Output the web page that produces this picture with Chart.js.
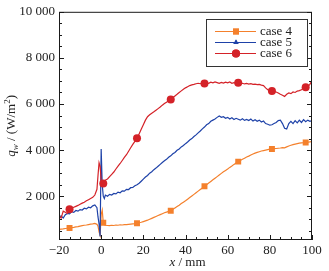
<!DOCTYPE html>
<html>
<head>
<meta charset="utf-8">
<script src="https://cdn.jsdelivr.net/npm/chart.js@4.4.0/dist/chart.umd.min.js"></script>
<style>
  html, body { margin: 0; padding: 0; background: #fff; }
  #wrap { width: 329px; height: 271px; }
</style>
</head>
<body>
<div id="wrap"><canvas id="heatChart"></canvas></div>
<script>
// x positions along the wall (mm)
const xMm = [
  -20, -19, -18, -17, -16, -15, -14, -13, -12, -11, -10, -9, -8, -7, -6, -5, -4, -3,
  -2, -1.5, -1, -0.5, 0, 0.5, 1, 1.5, 2,
  3, 4, 5, 6, 7, 8, 9, 10, 11, 12, 13, 14, 15, 16, 17, 18, 19, 20,
  21, 22, 23, 24, 25, 26, 27, 28, 29, 30, 31, 32, 33, 34, 35, 36, 37, 38, 39, 40,
  41, 42, 43, 44, 45, 46, 47, 48, 49, 50, 51, 52, 53, 54, 55, 56, 57, 58, 59, 60,
  61, 62, 63, 64, 65, 66, 67, 68, 69, 70, 71, 72, 73, 74, 75, 76, 77, 78, 79, 80,
  81, 82, 83, 84, 85, 86, 87, 88, 89, 90, 91, 92, 93, 94, 95, 96, 97, 98, 99, 100
];

const case4 = [
  560, 570, 580, 600, 610, 620, 640, 650, 670, 680, 700, 720, 740, 750, 770, 790, 800, 820,
  780, 700, 450, 300, 1200, 1400, 850, 760, 740,
  730, 720, 740, 730, 750, 740, 760, 750, 770, 770, 780, 790, 800, 810, 825, 850, 870, 900,
  930, 960, 1000, 1040, 1080, 1120, 1160, 1200, 1240, 1280, 1310, 1340, 1370, 1430, 1490, 1550, 1610, 1680, 1740, 1800,
  1870, 1940, 2010, 2080, 2150, 2220, 2290, 2360, 2430, 2500, 2570, 2640, 2710, 2780, 2850, 2920, 2990, 3060, 3120, 3180,
  3250, 3310, 3380, 3440, 3500, 3550, 3600, 3650, 3700, 3740, 3790, 3830, 3870, 3900, 3930, 3960, 3980, 4000, 4020, 4040,
  4050, 4060, 4070, 4080, 4090, 4110, 4100, 4140, 4180, 4210, 4240, 4260, 4280, 4300, 4310, 4320, 4330, 4340, 4360, 4370
];

const case5 = [
  1080, 1150, 1050, 1200, 1250, 1230, 1330, 1300, 1380, 1350, 1420, 1400, 1480, 1450, 1520, 1500, 1580, 1620,
  1500, 1100, 800, 250, 4050, 2500, 2000, 1900, 2050,
  2000, 2080, 2050, 2120, 2100, 2180, 2150, 2230, 2220, 2300, 2290, 2370, 2380, 2450, 2500, 2560, 2650, 2740,
  2830, 2900, 3000, 3060, 3150, 3220, 3300, 3380, 3460, 3540, 3600, 3690, 3750, 3840, 3900, 3990, 4050, 4140, 4200, 4280,
  4350, 4440, 4500, 4590, 4660, 4750, 4830, 4920, 5000, 5100, 5150, 5250, 5300, 5350, 5420, 5480, 5420, 5450, 5380, 5420,
  5350, 5400, 5330, 5380, 5340, 5300, 5360, 5290, 5330, 5280, 5350, 5260, 5320, 5250, 5300, 5220, 5260, 5150, 5120, 5080,
  5100, 5150, 5200, 5280, 5300, 5150, 4950, 4920, 5150, 5250, 5150, 5280, 5180, 5300, 5200, 5320, 5230, 5300, 5250, 5280
];

const case6 = [
  1150, 1050, 1350, 1300, 1250, 1430, 1480, 1520, 1560, 1600, 1650, 1700, 1740, 1800, 1850, 1900, 1950, 2050,
  2300, 2900, 3450, 3300, 2700, 2500, 2550, 2600, 2700,
  2750, 2850, 2950, 3050, 3180, 3300, 3420, 3550, 3680, 3800, 3950, 4100, 4250, 4380, 4510, 4700, 4900, 5100,
  5300, 5450, 5530, 5600, 5660, 5730, 5800, 5870, 5950, 6020, 6080, 6150, 6200, 6280, 6350, 6420, 6500, 6570, 6640, 6700,
  6750, 6800, 6830, 6850, 6880, 6900, 6880, 6910, 6890, 6920, 6900, 6950, 6920, 6960, 6930, 6900, 6940, 6910, 6950, 6920,
  6960, 6900, 6930, 6900, 6920, 6890, 6900, 6870, 6890, 6860, 6880, 6850, 6860, 6840, 6850, 6820, 6800, 6700, 6620, 6580,
  6560, 6550, 6520, 6480, 6420, 6380, 6330, 6420, 6480, 6450, 6520, 6500, 6560, 6580, 6620, 6680, 6730, 6760, 6850, 7020
];

// x positions where symbols are drawn
const markerX = [-15, 1, 17, 33, 49, 65, 81, 97];

const seriesLabels = ["case 4", "case 5", "case 6"];
const xTicks = [-20, 0, 20, 40, 60, 80, 100];
const yTicks = [2000, 4000, 6000, 8000, 10000];

const colors = ["rgb(244,128,44)", "rgb(30,66,168)", "rgb(212,34,40)"];
const styles = ["rect", "triangle", "circle"];
const legendRadii = [4.2, 3, 4];
const plotRadii = [4.2, 0, 4];

const FONT = "Liberation Serif";

function pts(vals) {
  return xMm.map((x, i) => ({ x: x, y: vals[i] }));
}

const datasets = [case4, case5, case6].map((vals, i) => ({
  label: seriesLabels[i],
  data: pts(vals),
  borderColor: colors[i],
  backgroundColor: colors[i],
  borderWidth: 1.2,
  pointStyle: styles[i],
  pointRadius: (c) => (c.raw && markerX.includes(c.raw.x) ? plotRadii[i] : 0),
  pointBorderWidth: 0,
  pointHoverRadius: 0,
  order: 3 - i,
  tension: 0,
}));

function fmt(v) {
  if (v < 0) return "\u2212" + Math.abs(v);
  if (v >= 1000) return Math.floor(v / 1000) + " " + String(v % 1000).padStart(3, "0");
  return String(v);
}

// box, inward ticks, legend and axis titles
const decor = {
  id: "decor",
  afterDatasetsDraw(chart) {
    const { ctx, chartArea: a, scales } = chart;
    const xs = scales.x, ys = scales.y;
    ctx.save();
    ctx.strokeStyle = "#1a1a1a";
    ctx.lineWidth = 1;
    ctx.strokeRect(a.left + 0.5, a.top + 0.5, a.right - a.left - 1, a.bottom - a.top - 1);

    ctx.beginPath();
    for (let v = -20; v <= 100; v += 5) {
      const px = Math.round(xs.getPixelForValue(v)) + 0.5;
      const len = v % 20 === 0 ? 5 : 3;
      ctx.moveTo(px, a.bottom);
      ctx.lineTo(px, a.bottom - len);
    }
    for (let v = 500; v <= 10000; v += 500) {
      const py = Math.round(ys.getPixelForValue(v)) + 0.5;
      const len = v % 2000 === 0 ? 5 : 3;
      ctx.moveTo(a.left, py);
      ctx.lineTo(a.left + len, py);
      ctx.moveTo(a.right, py);
      ctx.lineTo(a.right - len, py);
    }
    ctx.stroke();

    // legend
    const lx = 206.5, ly = 19.5, lw = 101, lh = 47;
    ctx.fillStyle = "#fff";
    ctx.fillRect(lx, ly, lw, lh);
    ctx.strokeStyle = "#333";
    ctx.strokeRect(lx, ly, lw, lh);
    const rows = [31.5, 42.5, 53.5];
    chart.data.datasets.forEach((ds, i) => {
      const y = rows[i];
      ctx.strokeStyle = colors[i];
      ctx.lineWidth = 1.2;
      ctx.beginPath();
      ctx.moveTo(215, y);
      ctx.lineTo(256, y);
      ctx.stroke();
      ctx.fillStyle = colors[i];
      Chart.helpers.drawPoint(ctx, { pointStyle: styles[i], radius: legendRadii[i], borderWidth: 0, rotation: 0 }, 236, y);
      ctx.fill();
      ctx.fillStyle = "#222";
      ctx.font = "13px '" + FONT + "'";
      ctx.textBaseline = "middle";
      ctx.textAlign = "left";
      ctx.fillText(ds.label, 260, y + 0.5);
    });

    // x title
    ctx.fillStyle = "#222";
    ctx.textBaseline = "alphabetic";
    const cx = (a.left + a.right) / 2 + 2;
    const parts = [["italic 13px '" + FONT + "'", "x"], ["13px '" + FONT + "'", " / mm"]];
    let total = 0;
    parts.forEach((p) => { ctx.font = p[0]; total += ctx.measureText(p[1]).width; });
    let x0 = cx - total / 2;
    parts.forEach((p) => { ctx.font = p[0]; ctx.fillText(p[1], x0, 266); x0 += ctx.measureText(p[1]).width; });

    // y title (rotated)
    ctx.translate(15, (a.top + a.bottom) / 2);
    ctx.rotate(-Math.PI / 2);
    const yparts = [
      ["italic 13px '" + FONT + "'", "q", 0],
      ["italic 9px '" + FONT + "'", "w", 3],
      ["13px '" + FONT + "'", " / (W/m", 0],
      ["9px '" + FONT + "'", "2", -5],
      ["13px '" + FONT + "'", ")", 0],
    ];
    total = 0;
    yparts.forEach((p) => { ctx.font = p[0]; total += ctx.measureText(p[1]).width; });
    x0 = -total / 2;
    yparts.forEach((p) => { ctx.font = p[0]; ctx.fillText(p[1], x0, p[2]); x0 += ctx.measureText(p[1]).width; });
    ctx.restore();
  },
};

new Chart(document.getElementById("heatChart"), {
  type: "line",
  data: { datasets: datasets },
  options: {
    responsive: true,
    maintainAspectRatio: false,
    animation: false,
    events: [],
    layout: { padding: { top: 9, right: 17, left: 0, bottom: 0 } },
    plugins: { legend: { display: false }, tooltip: { enabled: false } },
    scales: {
      x: {
        type: "linear",
        min: -20,
        max: 100,
        afterBuildTicks: (s) => { s.ticks = xTicks.map((v) => ({ value: v })); },
        afterFit: (s) => { s.height = 31; },
        grid: { display: false, drawTicks: false },
        border: { display: false },
        ticks: {
          padding: 3,
          color: "#222",
          font: { family: FONT, size: 13 },
          maxRotation: 0,
          callback: (v) => fmt(v),
        },
      },
      y: {
        type: "linear",
        min: 100,
        max: 10000,
        afterBuildTicks: (s) => { s.ticks = yTicks.map((v) => ({ value: v })); },
        afterFit: (s) => { s.width = 59; },
        grid: { display: false, drawTicks: false },
        border: { display: false },
        ticks: {
          padding: 4,
          color: "#222",
          font: { family: FONT, size: 13 },
          callback: (v) => fmt(v),
        },
      },
    },
  },
  plugins: [decor],
});
</script>
</body>
</html>
